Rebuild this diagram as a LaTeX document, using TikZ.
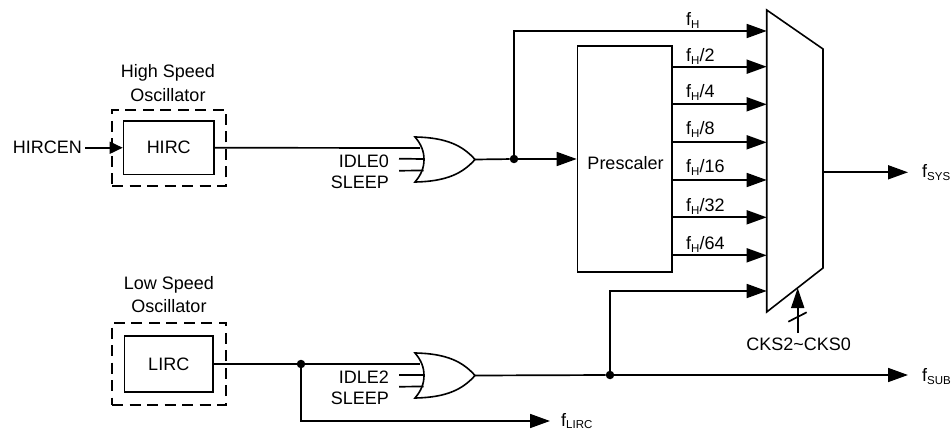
\documentclass[tikz,border=0pt]{standalone}
\usepackage{fontspec}
\setmainfont{Liberation Sans}
\usetikzlibrary{arrows.meta,calc}
\newcommand{\fq}[2]{f\raisebox{-2.6pt}{\fontsize{11.5}{12}\selectfont #1}#2}
\tikzset{
  x=1pt,y=-1pt,
  wire/.style={line width=1.7pt,line join=miter},
  arr/.style={wire,-{Triangle[length=20pt,width=14pt]}},
  blockbox/.style={draw,line width=1.6pt,inner sep=0pt,minimum width=#1},
  dashbox/.style={draw,line width=1.6pt,dash pattern=on 11pt off 6.5pt,inner sep=0pt},
  lab/.style={inner sep=0pt,anchor=base,font=\fontsize{18}{20}\selectfont},
  labw/.style={lab,anchor=base west},
  labe/.style={lab,anchor=base east},
  dot/.style={circle,fill=black,inner sep=0pt,minimum size=8.5pt},
  pics/orgate/.style={code={
    \draw[line width=1.6pt,line join=miter,fill=white] (0,0) .. controls (32,0.5) and (48,9) .. (60,22.5)
      .. controls (48,36) and (32,44.5) .. (0,45)
      .. controls (6,38) and (9,31) .. (9,22.5)
      .. controls (9,14) and (6,7) .. (0,0) -- cycle;
    \coordinate (-tip) at (60,22.5);
    \coordinate (-a) at (5.5,11);
    \coordinate (-b) at (9,22);
    \coordinate (-c) at (8.5,33.5);
  }}
}
\begin{document}
\begin{tikzpicture}
\useasboundingbox (0,0) rectangle (952,430);
% oscillators
\node[dashbox,minimum width=114pt,minimum height=76pt] (hosc) at (169,148) {};
\node[blockbox=90.5pt,minimum height=53.5pt,font=\fontsize{18}{20}\selectfont] (hirc) at (168.75,147.75) {HIRC};
\node[dashbox,minimum width=114pt,minimum height=82pt] (losc) at (169,363.7) {};
\node[blockbox=88.5pt,minimum height=56.5pt,font=\fontsize{18}{20}\selectfont] (lirc) at (168.75,364) {LIRC};
\node[lab] (hs1) at (168,78) {High Speed};
\node[lab] (hs2) at (168,102) {Oscillator};
\node[lab] (ls1) at (169,289) {Low Speed};
\node[lab] (ls2) at (169,312) {Oscillator};
\node[labe] (hircen) at (82,154) {HIRCEN};
% gates
\pic (g1) at (415,137) {orgate};
\pic (g2) at (415,353) {orgate};
\node[labe] (idle0) at (389,168) {IDLE0};
\node[labe] (sleep0) at (389,189) {SLEEP};
\node[labe] (idle2) at (389,383) {IDLE2};
\node[labe] (sleep2) at (389,404) {SLEEP};
\coordinate (i0s) at (399,158.7);
\coordinate (s0s) at (399,170.7);
\coordinate (i2s) at (399,375);
\coordinate (s2s) at (399,386.7);
% prescaler
\node[blockbox=94.5pt,minimum height=226pt] (pre) at (624.75,159) {};
\node[lab] (pretxt) at (625.5,170) {Prescaler};
% mux
\draw[line width=1.6pt,line join=miter,fill=white] (766.7,10) coordinate (mtl) -- (823,49) coordinate (mtr)
  -- (823,268) coordinate (mbr) -- (766.7,312) coordinate (mbl) -- cycle;
% wires
\coordinate (hin) at (85,147.75);
\draw[wire,-{Triangle[length=13pt,width=12pt]}] (hin) -- (hirc.west);
\draw[wire] (hirc.east) -- (420,148);
\draw[wire] (i0s) -- (g1-b);
\draw[wire] (s0s) -- (g1-c);
\node[dot] (j1) at (514,159) {};
\draw[wire] (g1-tip) -- (j1);
\draw[arr] (j1) -- (pre.west |- j1);
\coordinate (c1) at (514,31);
\coordinate (m0) at (766.7,31);
\draw[arr] (j1) -- (c1) -- (m0);
\node[labw] (fh) at (686,26) {\fq{H}{}};
\foreach \n/\y/\ly/\t in {2/66.7/61.7/2,4/104.3/98/4,8/142.3/135/8,16/180/173/16,32/217.3/211.7/32,64/255.3/250/64}{
  \coordinate (p\n) at (pre.east |- 0,\y);
  \coordinate (m\n) at (766.7,\y);
  \draw[arr] (p\n) -- (m\n);
  \node[labw] (fh\n) at (686,\ly) {\fq{H}{/\t}};
}
\coordinate (mo) at (823,172.3);
\coordinate (fsysend) at (908,172.3);
\draw[arr] (mo) -- (fsysend);
\node[labw] (fsys) at (922,178) {\fq{SYS}{}};
% select
\coordinate (cksb) at (797.7,333);
\coordinate (ckst) at (797.7,288);
\draw[wire,-{Triangle[length=20pt,width=13pt]}] (cksb) -- (ckst);
\coordinate (sl1) at (788.3,321.7);
\coordinate (sl2) at (806.7,312.3);
\draw[wire] (sl1) -- (sl2);
\node[lab] (cks) at (798.7,350) {CKS2\textasciitilde CKS0};
% low part
\node[dot] (j2) at (301,364) {};
\draw[wire] (lirc.east) -- (j2);
\draw[wire] (j2) -- (420,364);
\draw[wire] (i2s) -- (g2-b);
\draw[wire] (s2s) -- (g2-c);
\coordinate (lc) at (301,421);
\coordinate (lend) at (550,421);
\draw[arr] (j2) -- (lc) -- (lend);
\node[labw] (flirc) at (561,426) {\fq{LIRC}{}};
\node[dot] (j3) at (610,375) {};
\draw[wire] (g2-tip) -- (j3);
\coordinate (subend) at (908,375);
\draw[arr] (j3) -- (subend);
\node[labw] (fsub) at (922,381.7) {\fq{SUB}{}};
\coordinate (c3) at (610,291);
\coordinate (m3) at (766.7,291);
\draw[arr] (j3) -- (c3) -- (m3);
\end{tikzpicture}
\end{document}
